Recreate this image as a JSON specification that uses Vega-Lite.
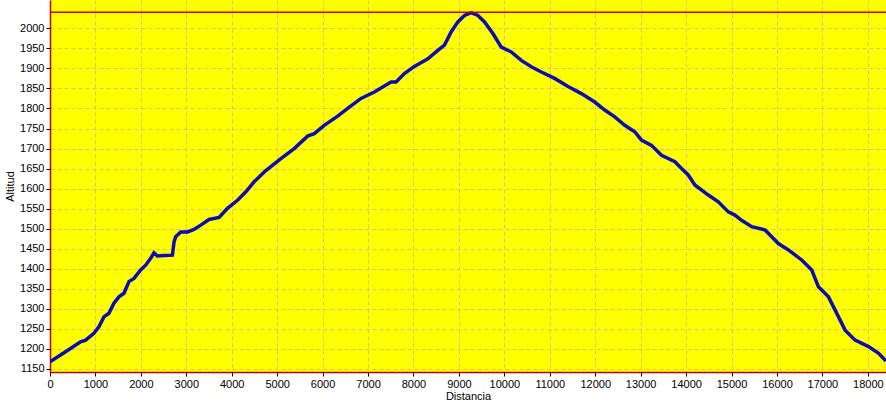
{
  "$schema": "https://vega.github.io/schema/vega-lite/v6.json",
  "autosize": {"type": "none"},
  "width": 836,
  "height": 372,
  "padding": {"left": 50, "top": 0, "right": 0, "bottom": 32},
  "background": "white",
  "config": {
    "view": {"fill": "#ffff00", "stroke": null},
    "font": "Liberation Sans",
    "axis": {
      "labelFont": "Liberation Sans",
      "labelFontSize": 11,
      "labelColor": "#000000",
      "labelOverlap": false,
      "titleFont": "Liberation Sans",
      "titleFontSize": 11,
      "titleFontWeight": "normal",
      "titleColor": "#000000",
      "domainColor": "#c00000",
      "domainWidth": 1.5,
      "tickColor": "#000000",
      "tickSize": 4,
      "gridColor": "#d6c27a",
      "gridDash": [4, 3],
      "gridWidth": 1
    }
  },
  "datasets": {
    "profile": [
      {"d": 0, "alt": 1168},
      {"d": 231, "alt": 1185},
      {"d": 452, "alt": 1201},
      {"d": 672, "alt": 1218},
      {"d": 783, "alt": 1222},
      {"d": 966, "alt": 1239},
      {"d": 1076, "alt": 1255},
      {"d": 1187, "alt": 1280},
      {"d": 1297, "alt": 1289},
      {"d": 1407, "alt": 1314},
      {"d": 1517, "alt": 1330},
      {"d": 1628, "alt": 1339},
      {"d": 1738, "alt": 1368},
      {"d": 1848, "alt": 1376},
      {"d": 1995, "alt": 1397},
      {"d": 2105, "alt": 1409},
      {"d": 2216, "alt": 1426},
      {"d": 2289, "alt": 1440},
      {"d": 2363, "alt": 1432},
      {"d": 2509, "alt": 1433},
      {"d": 2694, "alt": 1434},
      {"d": 2730, "alt": 1467},
      {"d": 2767, "alt": 1480},
      {"d": 2877, "alt": 1492},
      {"d": 3025, "alt": 1492},
      {"d": 3170, "alt": 1498},
      {"d": 3318, "alt": 1509},
      {"d": 3501, "alt": 1523},
      {"d": 3722, "alt": 1528},
      {"d": 3906, "alt": 1551},
      {"d": 4127, "alt": 1571},
      {"d": 4310, "alt": 1592},
      {"d": 4493, "alt": 1617},
      {"d": 4750, "alt": 1645},
      {"d": 5082, "alt": 1675},
      {"d": 5375, "alt": 1700},
      {"d": 5670, "alt": 1731},
      {"d": 5816, "alt": 1737},
      {"d": 6036, "alt": 1758},
      {"d": 6332, "alt": 1781},
      {"d": 6552, "alt": 1800},
      {"d": 6845, "alt": 1825},
      {"d": 7139, "alt": 1841},
      {"d": 7507, "alt": 1866},
      {"d": 7617, "alt": 1866},
      {"d": 7800, "alt": 1887},
      {"d": 8020, "alt": 1905},
      {"d": 8316, "alt": 1924},
      {"d": 8536, "alt": 1945},
      {"d": 8682, "alt": 1958},
      {"d": 8829, "alt": 1991},
      {"d": 8977, "alt": 2016},
      {"d": 9123, "alt": 2032},
      {"d": 9270, "alt": 2039},
      {"d": 9418, "alt": 2032},
      {"d": 9564, "alt": 2016},
      {"d": 9748, "alt": 1987},
      {"d": 9932, "alt": 1953},
      {"d": 10152, "alt": 1941},
      {"d": 10373, "alt": 1920},
      {"d": 10593, "alt": 1904},
      {"d": 10814, "alt": 1891},
      {"d": 11107, "alt": 1875},
      {"d": 11402, "alt": 1855},
      {"d": 11695, "alt": 1837},
      {"d": 11989, "alt": 1816},
      {"d": 12209, "alt": 1796},
      {"d": 12430, "alt": 1779},
      {"d": 12650, "alt": 1758},
      {"d": 12871, "alt": 1742},
      {"d": 13018, "alt": 1721},
      {"d": 13239, "alt": 1708},
      {"d": 13459, "alt": 1683},
      {"d": 13753, "alt": 1667},
      {"d": 13900, "alt": 1650},
      {"d": 14048, "alt": 1634},
      {"d": 14193, "alt": 1609},
      {"d": 14489, "alt": 1584},
      {"d": 14709, "alt": 1567},
      {"d": 14930, "alt": 1542},
      {"d": 15075, "alt": 1534},
      {"d": 15222, "alt": 1521},
      {"d": 15443, "alt": 1505},
      {"d": 15737, "alt": 1497},
      {"d": 15884, "alt": 1480},
      {"d": 16031, "alt": 1463},
      {"d": 16252, "alt": 1447},
      {"d": 16545, "alt": 1422},
      {"d": 16766, "alt": 1397},
      {"d": 16913, "alt": 1355},
      {"d": 17134, "alt": 1330},
      {"d": 17355, "alt": 1280},
      {"d": 17500, "alt": 1247},
      {"d": 17720, "alt": 1222},
      {"d": 18016, "alt": 1206},
      {"d": 18237, "alt": 1189},
      {"d": 18400, "alt": 1170}
    ],
    "maxline": [{"maxAlt": 2040}]
  },
  "layer": [
    {
      "data": {"name": "profile"},
      "mark": {"type": "line", "color": "#0c0cb4", "strokeWidth": 3.5, "clip": true},
      "encoding": {
        "x": {
          "field": "d",
          "type": "quantitative",
          "title": "Distancia",
          "scale": {"domain": [0, 18400], "nice": false, "zero": false},
          "axis": {
            "values": [0, 1000, 2000, 3000, 4000, 5000, 6000, 7000, 8000, 9000, 10000, 11000, 12000, 13000, 14000, 15000, 16000, 17000, 18000],
            "tickCount": 60,
            "format": "d",
            "labelPadding": 2,
            "titlePadding": 1,
            "labelOverlap": false,
            "labelFlush": false
          }
        },
        "y": {
          "field": "alt",
          "type": "quantitative",
          "title": "Altitud",
          "scale": {"domain": [1142.5, 2070.6], "nice": false, "zero": false},
          "axis": {
            "values": [1150, 1200, 1250, 1300, 1350, 1400, 1450, 1500, 1550, 1600, 1650, 1700, 1750, 1800, 1850, 1900, 1950, 2000],
            "tickCount": 60,
            "format": "d",
            "labelPadding": 2,
            "titlePadding": 4,
            "labelOverlap": false,
            "labelFlush": false
          }
        }
      }
    },
    {
      "data": {"name": "maxline"},
      "mark": {"type": "rule", "color": "#d40000", "strokeWidth": 1.5},
      "encoding": {
        "y": {"field": "maxAlt", "type": "quantitative"}
      }
    }
  ]
}
